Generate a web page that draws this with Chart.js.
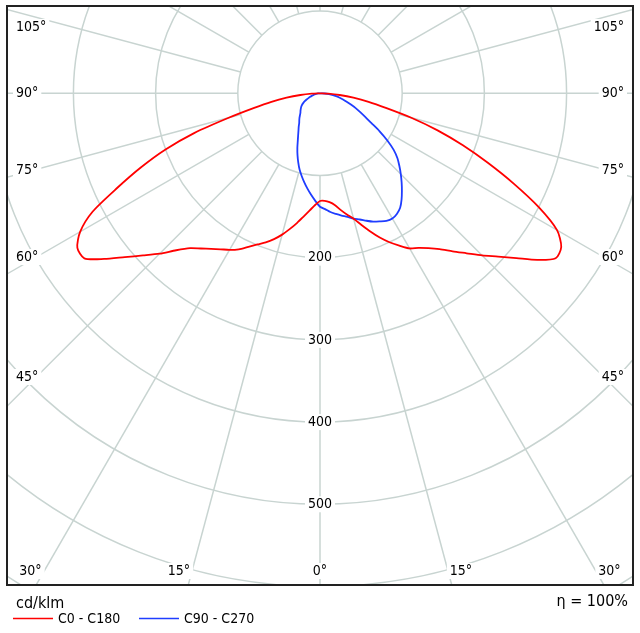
<!DOCTYPE html>
<html>
<head>
<meta charset="utf-8">
<script src="https://cdn.jsdelivr.net/npm/chart.js@4.4.0/dist/chart.umd.min.js"></script>
<style>
  html, body { margin: 0; padding: 0; background: #fff; }
  canvas { display: block; }
</style>
</head>
<body>
<canvas id="polar" width="640" height="633"></canvas>
<script>
// gamma angles (deg) and intensities, cd/klm
const angles = [0, 2.5, 5, 7.5, 10, 12.5, 15, 17.5, 20, 22.5, 25, 27.5, 30, 32.5, 35, 37.5, 40, 42.5,
  45, 47.5, 50, 52.5, 55, 57.5, 60, 62.5, 65, 67.5, 70, 72.5, 75, 77.5, 80, 82.5, 85, 87.5, 90];

const redC0 = [131, 131, 133, 137, 144, 151, 158, 168, 179, 190, 200, 209, 218, 223, 230, 239, 251, 264,
  279, 294, 312, 333, 350, 348, 333, 300, 260, 221, 185, 150, 115, 82, 60, 41, 24, 10, 0];
const redC180 = [131, 136, 143, 151, 160, 169, 178, 186, 193, 199, 206, 214, 220, 225, 231, 238, 246, 259,
  276, 292, 310, 331, 350, 350, 337, 312, 272, 236, 200, 160, 115, 82, 60, 41, 24, 10, 0];
const blueC90 = [138, 141, 145, 148, 151, 154, 158, 161, 165, 169, 172, 175, 176, 174, 170, 163, 155, 147,
  139, 131, 123, 113, 100, 86, 72, 62, 54, 47, 40, 34, 29, 24, 20, 16, 11, 6, 0];
const blueC270 = [138, 131, 124, 117, 110, 103, 96, 88, 80, 72, 64, 57.6, 52.4, 48.2, 44.1, 41.4, 38.8, 36.1,
  33.7, 32.2, 30.7, 29.2, 27.6, 25.8, 23.4, 20.9, 18, 15.3, 12.7, 10.5, 8.5, 6.6, 5, 3.5, 2.2, 1, 0];

const seriesNames = ['C0 - C180', 'C90 - C270'];
const ringValues = [100, 200, 300, 400, 500, 600, 700, 800];
const ringLabels = [200, 300, 400, 500];
const spokeAngles = [0, 15, 30, 45, 60, 75, 90, 105, 120, 135, 150, 165, 180, 195, 210, 225, 240, 255,
  270, 285, 300, 315, 330, 345];
const unitLabel = 'cd/klm';
const effLabel = 'η = 100%';

const gridColor = '#c8d4d1';
const textColor = '#000';
const font = '"DejaVu Sans Condensed", "DejaVu Sans", sans-serif';

// gamma 0 points down; C180/C270 on the left, C0/C90 on the right
function toXY(g, v) {
  const r = g * Math.PI / 180;
  return { x: v * Math.sin(r), y: -v * Math.cos(r) };
}
function curve(left, right) {
  const pts = [];
  for (let i = angles.length - 1; i >= 0; i--) pts.push(toXY(-angles[i], left[i]));
  for (let i = 1; i < angles.length; i++) pts.push(toXY(angles[i], right[i]));
  return pts;
}

// angle labels sit where the spokes meet the frame
const angleLabelLayout = [
  ['105°', 16, 27, 'left'], ['90°', 16, 93.5, 'left'], ['75°', 16, 170, 'left'],
  ['60°', 16, 257, 'left'], ['45°', 16, 377, 'left'],
  ['105°', 624, 27, 'right'], ['90°', 624, 93.5, 'right'], ['75°', 624, 170, 'right'],
  ['60°', 624, 257, 'right'], ['45°', 624, 377, 'right'],
  ['30°', 30.5, 571, 'center'], ['15°', 179, 571, 'center'], ['0°', 320, 571, 'center'],
  ['15°', 461, 571, 'center'], ['30°', 609.5, 571, 'center']
];

function boxedText(ctx, txt, x, y, align) {
  const w = ctx.measureText(txt).width;
  let left = x;
  if (align === 'center') left = x - w / 2;
  if (align === 'right') left = x - w;
  ctx.fillStyle = '#fff';
  ctx.fillRect(left - 3, y - 8, w + 6, 16);
  ctx.fillStyle = textColor;
  ctx.textAlign = align;
  ctx.fillText(txt, x, y);
}

const polarGrid = {
  id: 'polarGrid',
  beforeDatasetsDraw(chart) {
    const { ctx, chartArea: a, scales: { x, y } } = chart;
    const cx = x.getPixelForValue(0), cy = y.getPixelForValue(0);
    const k = (x.getPixelForValue(100) - cx) / 100;
    ctx.save();
    ctx.beginPath();
    ctx.rect(a.left, a.top, a.right - a.left, a.bottom - a.top);
    ctx.clip();
    ctx.strokeStyle = gridColor;
    ctx.lineWidth = 1.5;
    ringValues.forEach(v => {
      ctx.beginPath();
      ctx.arc(cx, cy, v * k, 0, Math.PI * 2);
      ctx.stroke();
    });
    spokeAngles.forEach(g => {
      const r = g * Math.PI / 180;
      const sx = Math.sin(r), sy = Math.cos(r);
      ctx.beginPath();
      ctx.moveTo(cx + sx * 100 * k, cy + sy * 100 * k);
      ctx.lineTo(cx + sx * 1000 * k, cy + sy * 1000 * k);
      ctx.stroke();
    });

    ctx.font = '14px ' + font;
    ctx.textBaseline = 'middle';
    ringLabels.forEach(v => boxedText(ctx, String(v), cx, y.getPixelForValue(-v), 'center'));
    angleLabelLayout.forEach(([t, lx, ly, al]) => boxedText(ctx, t, lx, ly, al));
    ctx.restore();
  },
  afterDraw(chart) {
    const { ctx, chartArea: a } = chart;
    ctx.save();
    ctx.strokeStyle = '#222';
    ctx.lineWidth = 2;
    ctx.strokeRect(a.left, a.top, a.right - a.left, a.bottom - a.top);

    ctx.fillStyle = textColor;
    ctx.textBaseline = 'middle';
    ctx.font = '16px ' + font;
    ctx.textAlign = 'left';
    ctx.fillText(unitLabel, 16, 604);
    ctx.textAlign = 'right';
    ctx.fillText(effLabel, 628, 602);

    ctx.font = '14px ' + font;
    ctx.textAlign = 'left';
    const starts = [13, 139];
    chart.data.datasets.forEach((ds, i) => {
      const lx = starts[i];
      ctx.strokeStyle = ds.borderColor;
      ctx.lineWidth = 1.5;
      ctx.beginPath();
      ctx.moveTo(lx, 618.5);
      ctx.lineTo(lx + 40, 618.5);
      ctx.stroke();
      ctx.fillStyle = textColor;
      ctx.fillText(ds.label, lx + 45, 619);
    });
    ctx.restore();
  }
};

const ctx = document.getElementById('polar').getContext('2d');

new Chart(ctx, {
  type: 'scatter',
  data: {
    datasets: [{
      label: seriesNames[0],
      data: curve(redC180, redC0),
      borderColor: '#ff0000',
      borderWidth: 1.8,
      showLine: true,
      pointRadius: 0,
      tension: 0.25,
      fill: false
    }, {
      label: seriesNames[1],
      data: curve(blueC270, blueC90),
      borderColor: '#1f3dff',
      borderWidth: 1.8,
      showLine: true,
      pointRadius: 0,
      tension: 0.25,
      fill: false
    }]
  },
  options: {
    responsive: false,
    animation: false,
    layout: { padding: { left: 7, right: 7, top: 6, bottom: 48 } },
    scales: {
      x: { type: 'linear', min: -380.8, max: 380.8, display: false },
      y: { type: 'linear', min: -598.2, max: 106.2, display: false }
    },
    plugins: {
      legend: { display: false },
      tooltip: { enabled: false }
    }
  },
  plugins: [polarGrid]
});
</script>
</body>
</html>
